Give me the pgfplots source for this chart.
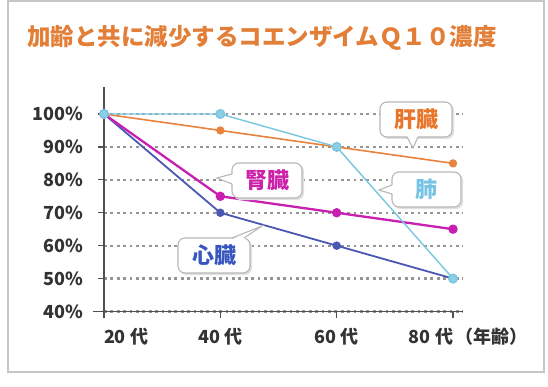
\documentclass[border=0pt]{standalone}
\usepackage{pgfplots}
\pgfplotsset{compat=1.18}
\usepackage{fontspec}
\setmainfont{Noto Sans CJK JP}
\definecolor{cOr}{HTML}{E8823C}
\definecolor{cCy}{HTML}{78C6E0}
\definecolor{cMg}{HTML}{C91FB0}
\definecolor{cBl}{HTML}{4A58B4}
\definecolor{cTitle}{HTML}{E27E36}
\definecolor{cTxt}{HTML}{333333}
\definecolor{cAx}{HTML}{505050}
\definecolor{cGrid}{HTML}{959595}
\definecolor{cBox}{HTML}{B8B8B8}
\definecolor{tOr}{HTML}{E8762A}
\definecolor{tCy}{HTML}{76C3E6}
\definecolor{tMg}{HTML}{CC22AA}
\definecolor{tBl}{HTML}{3856C0}
\begin{document}
\begin{tikzpicture}[x=1pt,y=1pt]
\useasboundingbox (0,0) rectangle (548,386);
\fill[white] (0,0) rectangle (548,386);
\draw[cBox!80, line width=1.5pt] (8,14) rectangle (544,385);
\node[text=cTitle, font=\bfseries\fontsize{23.5}{26}\selectfont] at (262,348) {加齢と共に減少するコエンザイムＱ１０濃度};
\begin{axis}[
  at={(104pt,74.5pt)}, anchor=south west, scale only axis,
  width=359pt, height=224.5pt,
  xmin=0, xmax=3.086, ymin=40, ymax=108.2,
  axis x line*=bottom, axis y line*=left,
  axis line style={cAx, line width=1.6pt},
  xtick={0,1,2,3},
  xticklabels={\makebox[0pt][l]{20 代},40 代,60 代,\makebox[0pt][r]{80 代}\makebox[0pt][l]{\hspace{3pt}（年齢）}},
  ytick={40,50,60,70,80,90,100},
  yticklabels={40\%,50\%,60\%,70\%,80\%,90\%,100\%},
  tick style={cAx, line width=1.3pt},
  major tick length=6pt, tick align=outside,
  ymajorgrids, grid style={cGrid, line width=2.2pt, dash pattern=on 2.8pt off 3.6pt},
  clip=false,
  ticklabel style={font=\bfseries\fontsize{18}{20}\selectfont, text=cTxt},
  yticklabel style={anchor=east, inner sep=0pt, xshift=-15pt},
  xticklabel style={anchor=north, inner sep=0pt, yshift=-10pt},
]
\draw[cAx, line width=1.6pt] (axis cs:-0.0946,40) -- (axis cs:0,40);
\addplot[cOr, line width=1.6pt, mark=*, mark size=3.3pt, mark options={fill=cOr, draw=cOr}] coordinates {(0,100)(1,95)(2,90)(3,85)};
\addplot[cBl, line width=1.8pt, mark=*, mark size=3.3pt, mark options={fill=cBl, draw=cBl}] coordinates {(0,100)(1,70)(2,60)(3,50)};
\addplot[cMg, line width=2.3pt, mark=*, mark size=3.5pt, mark options={fill=cMg, draw=cMg}] coordinates {(0,100)(1,75)(2,70)(3,65)};
\addplot[cCy, line width=1.4pt, mark=*, mark size=4.3pt, mark options={fill=cCy!85!white, draw=cCy}] coordinates {(0,100)(1,100)(2,90)(3,50)};
\end{axis}
% callouts (image coords: Y = 386 - y)
\tikzset{cbox/.style={draw=cBox, fill=white, line width=1.1pt, rounded corners=7pt},
  cshadow/.style={fill=black!12, rounded corners=7pt}}
% 肝臓
\fill[cshadow] (381.5,282.5) rectangle (454,247);
\draw[cbox] (380,284) rectangle (452,249);
\fill[white] (407,250.4) -- (413,238) -- (418,250.4) -- cycle;
\draw[cBox, line width=1.1pt] (407,249) -- (413,238) -- (418,249);
\node[text=tOr, font=\bfseries\fontsize{22}{24}\selectfont] at (416,266.5) {肝臓};
% 肺
\fill[cshadow] (393.5,212.5) rectangle (463,177);
\draw[cbox] (392,214) rectangle (461,179);
\fill[white] (393.4,201) -- (379,196) -- (393.4,192) -- cycle;
\draw[cBox, line width=1.1pt] (392,201) -- (379,196) -- (392,192);
\node[text=tCy, font=\bfseries\fontsize{22}{24}\selectfont] at (426.5,196.5) {肺};
% 腎臓
\fill[cshadow] (233.5,221.5) rectangle (304,186);
\draw[cbox] (232,223) rectangle (302,188);
\fill[white] (233.4,212) -- (217,208) -- (233.4,202) -- cycle;
\draw[cBox, line width=1.1pt] (232,212) -- (217,208) -- (232,202);
\node[text=tMg, font=\bfseries\fontsize{22}{24}\selectfont] at (267,205.5) {腎臓};
% 心臓
\fill[cshadow] (179.5,146.5) rectangle (252,111);
\draw[cbox] (178,148) rectangle (250,113);
\fill[white] (232,146.6) -- (262,160) -- (244,146.6) -- cycle;
\draw[cBox, line width=1.1pt] (232,148) -- (262,160) -- (244,148);
\node[text=tBl, font=\bfseries\fontsize{22}{24}\selectfont] at (214,130.5) {心臓};
\end{tikzpicture}
\end{document}
